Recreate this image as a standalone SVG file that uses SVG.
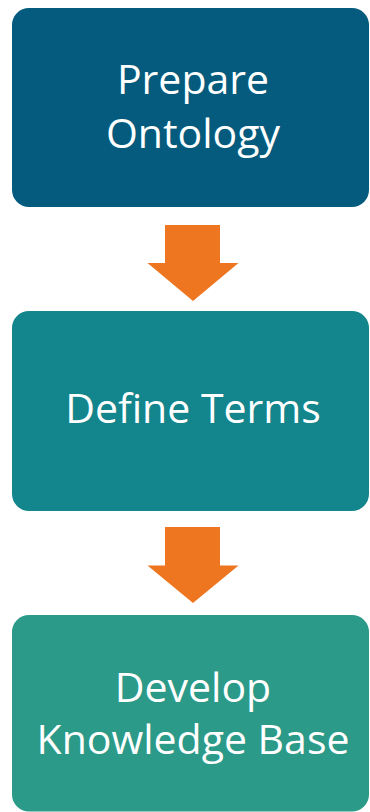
<svg xmlns="http://www.w3.org/2000/svg" width="370" height="812" viewBox="0 0 370 812">
<style>
.lbl{font-family:"Open Sans","Noto Sans","Liberation Sans",sans-serif;font-size:41px;fill:#ffffff;text-anchor:middle}
.arr{fill:#EF7621}
</style>
<rect x="0" y="0" width="370" height="812" fill="#ffffff"/>
<g id="node-prepare">
<rect x="12" y="8" width="357" height="199" rx="17" fill="#045B7D"/>
<text class="lbl" x="193" y="94">Prepare</text>
<text class="lbl" x="193" y="148">Ontology</text>
</g>
<g id="node-define">
<rect x="12" y="311" width="357" height="200" rx="17" fill="#13858C"/>
<text class="lbl" x="193" y="423">Define Terms</text>
</g>
<g id="node-develop">
<rect x="12" y="615" width="357" height="196.5" rx="17" fill="#2B9A89"/>
<text class="lbl" x="193" y="702">Develop</text>
<text class="lbl" x="193" y="754">Knowledge Base</text>
</g>
<g id="connectors">
<polygon class="arr" points="165,225 220,225 220,263 238.5,263 193,301 147.5,263 165,263"/>
<polygon class="arr" points="165,527 220,527 220,565.5 238.5,565.5 193,603 147.5,565.5 165,565.5"/>
</g>
</svg>
